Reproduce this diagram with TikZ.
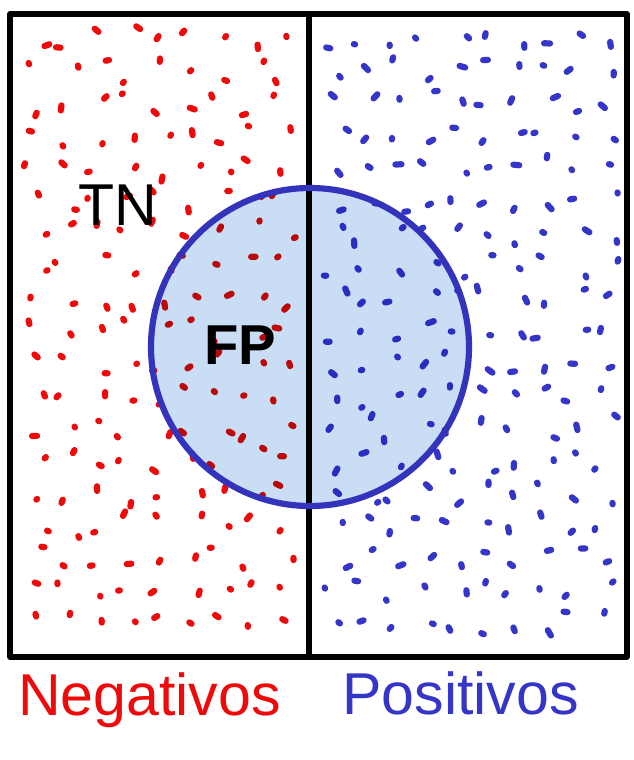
\documentclass[tikz,border=0pt]{standalone}
\usepackage{fontspec}
\setmainfont{Liberation Sans}
\usetikzlibrary{positioning,calc}
\definecolor{negred}{HTML}{EE0A0A}
\definecolor{posblue}{HTML}{3535C8}
\definecolor{fpfill}{HTML}{C9DDF5}
\definecolor{ringblue}{HTML}{3333BB}

\begin{document}
\begin{tikzpicture}[
  x=0.025cm, y=-0.025cm,
  frame/.style={draw=black, line width=3.6pt, line join=round},
  ring/.style={draw=ringblue, line width=4.4pt},
  speck/.style={line width=4.4pt, line cap=round},
  hand/.style={font=\fontsize{42}{42}\selectfont, inner sep=0pt},
]
  \useasboundingbox[fill=white] (0,0) rectangle (633,760);

  %% Scattered samples on a jittered grid, negatives left and positives right
  \pgfmathsetseed{4217}
  \foreach \col in {0,...,8}{
    \foreach \row in {0,...,18}{
      \pgfmathsetmacro{\px}{36+\col*31+rand*12}
      \pgfmathsetmacro{\py}{38+\row*32.5+rand*12}
      \pgfmathsetmacro{\pa}{rnd*180}
      \pgfmathsetmacro{\pl}{0.4+rnd*2.2}
      \draw[speck, negred] ($(\px,\py)+(\pa:\pl)$) -- ($(\px,\py)+(\pa+180:\pl)$);
    }
  }
  \foreach \col in {0,...,9}{
    \foreach \row in {0,...,18}{
      \pgfmathsetmacro{\px}{336+\col*30+rand*12}
      \pgfmathsetmacro{\py}{38+\row*32.5+rand*12}
      \pgfmathsetmacro{\pa}{rnd*180}
      \pgfmathsetmacro{\pl}{0.5+rnd*2.6}
      \draw[speck, posblue] ($(\px,\py)+(\pa:\pl)$) -- ($(\px,\py)+(\pa+180:\pl)$);
    }
  }

  %% Predicted positive region
  \coordinate (c) at (310,347);
  \fill[fpfill, blend mode=multiply] (c) circle[radius=159];
  \draw[frame, line width=4pt] (309,14) -- (309,657);
  \draw[ring] (c) circle[radius=159];
  \draw[frame] (10,14) rectangle (627,657);

  %% Labels
  \node[hand] (tn) at (118,205) {TN};
  \node[hand, font=\fontsize{40}{40}\bfseries] (fp) at (240,345) {FP};
  \node[hand, text=negred, anchor=west] (neg) at (18,700) {Negativos};
  \node[hand, text=posblue, anchor=west] (pos) at (342,693) {Positivos};
\end{tikzpicture}
\end{document}
